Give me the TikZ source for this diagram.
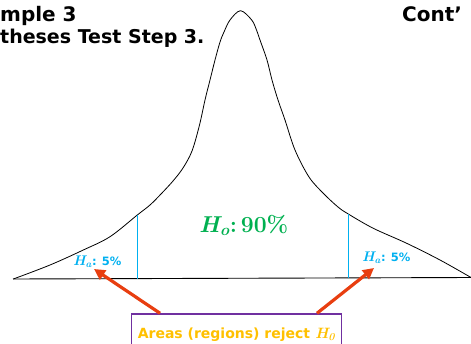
\documentclass[tikz,border=0pt]{standalone}
\usepackage{fontspec}
\setsansfont{DejaVu Sans}
\usetikzlibrary{arrows.meta}
\definecolor{hblue}{HTML}{00B0F0}
\definecolor{hgreen}{HTML}{00B050}
\definecolor{horange}{HTML}{FFC000}
\definecolor{hpurple}{HTML}{7030A0}
\definecolor{hred}{RGB}{232,62,16}
\newcommand{\hsym}[2]{{\rmfamily\bfseries\itshape\fontsize{#2}{#2}\selectfont H\textsubscript{#1}}}
\tikzset{
  curve/.style={line width=0.8pt, black},
  cutline/.style={hblue, line width=1pt},
  halabel/.style={text=hblue, inner sep=0pt, anchor=base west, font=\sffamily\bfseries\fontsize{11.5}{14}\selectfont},
  titletext/.style={inner sep=0pt, anchor=base west, font=\sffamily\bfseries\fontsize{20}{24}\selectfont},
  subtext/.style={inner sep=0pt, anchor=base west, font=\sffamily\bfseries\fontsize{19}{22}\selectfont},
  rejectbox/.style={draw=hpurple, line width=1.5pt, text=horange, minimum width=210pt, text height=10pt, text depth=30pt, inner xsep=0pt, inner ysep=14pt, anchor=base, font=\sffamily\bfseries\fontsize{14}{17}\selectfont},
  redarrow/.style={hred, line width=3.2pt, -{Triangle[length=11pt,width=11pt]}}
}
\begin{document}
\begin{tikzpicture}[x=1pt,y=-1pt]
\useasboundingbox (0,0) rectangle (471,343);
\clip (0,0) rectangle (471,343);
% titles
\node[titletext] (t1) at (0,21) {mple 3};
\node[subtext] (t2) at (0,43) {theses Test Step 3.};
\node[titletext] (t3) at (402,21) {Cont’};
% curve
\draw[curve] plot[smooth,tension=0.55] coordinates {(13.3,279) (50,265) (83.3,250) (110,236.7) (137.3,215) (150,205) (161,194) (173,181) (183,168) (192,151) (199.5,125) (205,100) (210,80) (215,60) (220,42) (224,32) (230,20) (240.5,10.7) (251.7,20) (256.5,30) (260,40) (267,60) (272,80) (278,100) (285,120) (295,150) (309,177) (323.3,193.3) (338,207) (348.3,214) (373.3,228.3) (406.7,243.3) (440,260) (471,277.5)};
% baseline
\draw[line width=0.9pt] (13,279) -- (471,277.5);
% cut lines
\draw[cutline] (137.3,215) -- (137.3,278.8);
\draw[cutline] (348.3,214) -- (348.3,278);
% labels
\node[halabel] (la) at (73,265) {\hsym{a}{14}: 5\%};
\node[halabel] (ra) at (362,261.5) {\hsym{a}{14}: 5\%};
\node[text=hgreen, inner sep=0pt, anchor=base west, font=\rmfamily\bfseries\fontsize{23}{27}\selectfont] (ho) at (199,232) {{\itshape H\textsubscript{o}}:\,90\%};
% box
\node[rejectbox] (bx) at (236.5,338) {Areas (regions) reject \hsym{0}{15}};
\coordinate (lt) at (94,269);
\coordinate (rt) at (374,268);
\draw[redarrow] ([xshift=-76.5pt]bx.north) -- (lt);
\draw[redarrow] ([xshift=80.5pt]bx.north) -- (rt);
\end{tikzpicture}
\end{document}
